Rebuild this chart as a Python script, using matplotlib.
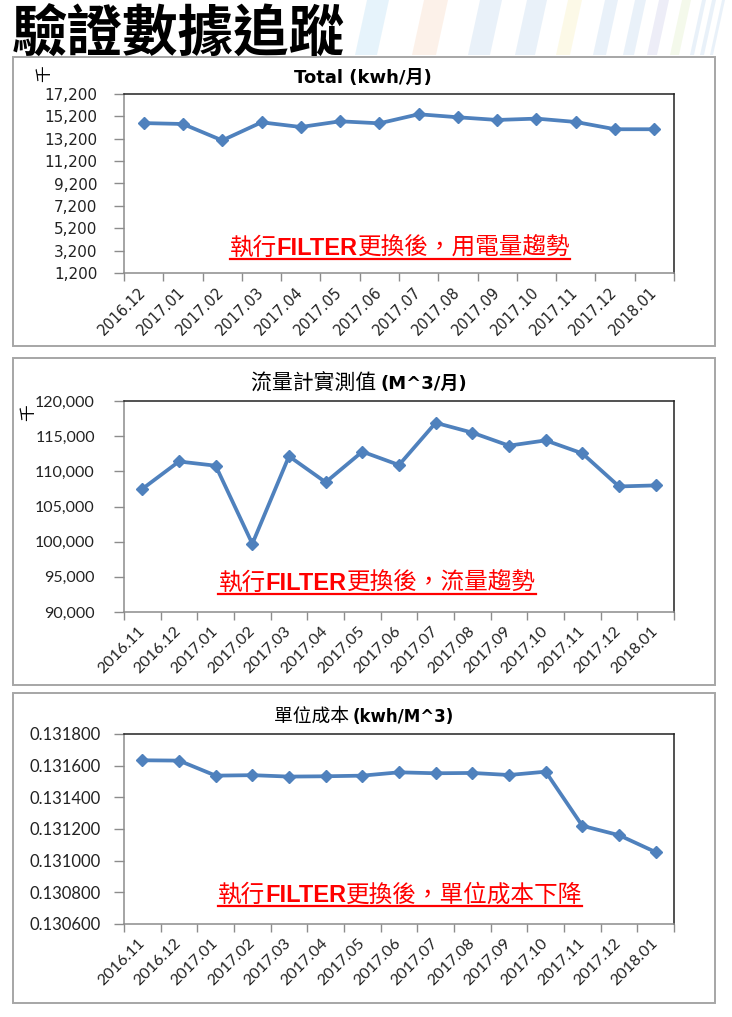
import numpy as np
import matplotlib
matplotlib.use('Agg')
import matplotlib.pyplot as plt
from matplotlib.patches import Rectangle, Polygon
from matplotlib.lines import Line2D
from matplotlib.transforms import IdentityTransform

W, H = 732, 1017

# --- data ---
months_kwh = ['2016.12', '2017.01', '2017.02', '2017.03', '2017.04', '2017.05', '2017.06',
              '2017.07', '2017.08', '2017.09', '2017.10', '2017.11', '2017.12', '2018.01']
total_kwh = [14600, 14520, 13050, 14670, 14250, 14760, 14580,
             15390, 15120, 14880, 15000, 14700, 14050, 14050]

months_flow = ['2016.11', '2016.12', '2017.01', '2017.02', '2017.03', '2017.04', '2017.05', '2017.06',
               '2017.07', '2017.08', '2017.09', '2017.10', '2017.11', '2017.12', '2018.01']
flow_m3 = [107500, 111400, 110800, 99700, 112150, 108450, 112800, 110900,
           116900, 115500, 113650, 114400, 112550, 107850, 108000]
unit_cost = [0.131634, 0.131632, 0.131537, 0.131540, 0.131531, 0.131533, 0.131537, 0.131558,
             0.131552, 0.131554, 0.131541, 0.131562, 0.131220, 0.131161, 0.131054]

yticks_kwh = np.arange(1200, 17201, 2000)
yticks_flow = np.arange(90000, 120001, 5000)
yticks_cost = np.round(np.arange(0.1306, 0.13181, 0.0002), 6)

CJK = 'Noto Sans CJK TC'
BLUE = '#4F81BD'
RED = '#FF0000'

fig = plt.figure(figsize=(W / 100, H / 100), dpi=100)
fig.patch.set_facecolor('white')

# faint decorative strips behind the heading (x at bottom, width, colour)
decor = [(355, 22, '#9fd3f0'), (412, 24, '#f7c9a8'), (468, 22, '#a9c9e8'), (515, 20, '#a9c9e8'),
         (556, 14, '#f7eaa0'), (593, 13, '#a9c9e8'), (623, 11, '#a9c9e8'), (647, 10, '#b8b8e0'),
         (670, 9, '#d5e8b0'), (690, 4, '#a9c9e8'), (700, 4, '#a9c9e8'), (710, 3, '#a9c9e8')]
for x0, w, c in decor:
    pts = [(x0, H - 55), (x0 + w, H - 55), (x0 + w + 12, H), (x0 + 12, H)]
    fig.patches.append(Polygon(pts, closed=True, transform=IdentityTransform(),
                               fc=c, ec='none', alpha=0.25, zorder=0))

fig.text(12, H - 52, '驗證數據追蹤', transform=IdentityTransform(), fontsize=40,
         fontweight='bold', family=CJK, ha='left', va='baseline', color='black')


def rect(left, top, right, bottom):
    return [left / W, 1 - bottom / H, (right - left) / W, (bottom - top) / H]


def panel_box(top, bottom):
    fig.patches.append(Rectangle((13, H - bottom), 702, bottom - top, transform=IdentityTransform(),
                                 fill=False, ec='#a6a6a6', lw=1.4, zorder=1))


def mixed_text(cx, baseline, pieces, underline=False, color='black'):
    r = fig.canvas.get_renderer()
    texts = []
    for s, kw in pieces:
        t = fig.text(0, H - baseline, s, transform=IdentityTransform(), ha='left',
                     va='baseline', color=color, **kw)
        texts.append(t)
    widths = [t.get_window_extent(r).width for t in texts]
    x = cx - sum(widths) / 2
    x0 = x
    for t, w in zip(texts, widths):
        t.set_x(x)
        x += w
    if underline:
        fig.lines.append(Line2D([x0, x], [H - baseline - 3.5] * 2, transform=IdentityTransform(),
                                color=color, lw=1.6))


def draw_chart(ax, labels, values, yticks, fmt, font, yfs, xfs, ypad=12):
    x = np.arange(len(labels))
    ax.plot(x, values, color=BLUE, lw=2.7, marker='D', ms=6, mfc=BLUE, mec=BLUE, zorder=3)
    ax.set_xlim(-0.5, len(labels) - 0.5)
    ax.set_ylim(yticks[0], yticks[-1])
    ax.set_yticks(yticks)
    ax.set_yticklabels([fmt(v) for v in yticks], family=font, fontsize=yfs, color='#222')
    ax.set_xticks(x)
    ax.set_xticklabels(labels, rotation=45, ha='right', va='center', rotation_mode='anchor',
                       family=font, fontsize=xfs, color='#222')
    ax.set_xticks(np.arange(-0.5, len(labels)), minor=True)
    ax.tick_params(axis='x', which='major', length=0, pad=12)
    ax.tick_params(axis='x', which='minor', length=6, color='#8c8c8c', width=1)
    ax.tick_params(axis='y', length=7, color='#8c8c8c', width=1, pad=ypad)
    for s in ['left', 'bottom']:
        ax.spines[s].set_color('#8c8c8c')
    for s in ['top', 'right']:
        ax.spines[s].set_color('#222')
    for s in ax.spines.values():
        s.set_linewidth(1.1)


bold_latin = dict(family=['DejaVu Sans', CJK], fontweight='bold')
cjk = dict(family=CJK)
filt = dict(family='Liberation Sans', fontweight='bold')

# panel 1
panel_box(57, 346)
ax1 = fig.add_axes(rect(124, 94, 674, 273))
draw_chart(ax1, months_kwh, total_kwh, yticks_kwh, lambda v: f'{v:,}', 'DejaVu Sans', 11, 10.5)
mixed_text(363, 83, [('Total (kwh/月)', dict(bold_latin, fontsize=13))])
fig.text(45, H - 74, '千', transform=IdentityTransform(), rotation=90, ha='center',
         va='center', family=CJK, fontsize=12)
mixed_text(400, 255, [('執行', dict(cjk, fontsize=17)), ('FILTER', dict(filt, fontsize=17)),
                      ('更換後，用電量趨勢', dict(cjk, fontsize=17))], underline=True, color=RED)

# panel 2
panel_box(358, 685)
ax2 = fig.add_axes(rect(124, 401, 674, 612))
draw_chart(ax2, months_flow, flow_m3, yticks_flow, lambda v: f'{v:,}', 'Lato', 11.5, 11.5, ypad=14)
mixed_text(359, 389, [('流量計實測值 ', dict(cjk, fontsize=15)),
                      ('(M^3/月)', dict(bold_latin, fontsize=13))])
fig.text(29, H - 413, '千', transform=IdentityTransform(), rotation=90, ha='center',
         va='center', family=CJK, fontsize=12)
mixed_text(377, 590, [('執行', dict(cjk, fontsize=17)), ('FILTER', dict(filt, fontsize=17)),
                      ('更換後，流量趨勢', dict(cjk, fontsize=17))], underline=True, color=RED)

# panel 3
panel_box(693, 1003)
ax3 = fig.add_axes(rect(124, 734, 674, 924))
draw_chart(ax3, months_flow, unit_cost, yticks_cost, lambda v: f'{v:.6f}', 'Lato', 12, 11.5, ypad=10)
mixed_text(364, 722, [('單位成本 ', dict(cjk, fontsize=13.5)),
                      ('(kwh/M^3)', dict(bold_latin, fontsize=12))])
mixed_text(400, 902, [('執行', dict(cjk, fontsize=17)), ('FILTER', dict(filt, fontsize=17)),
                      ('更換後，單位成本下降', dict(cjk, fontsize=17))], underline=True, color=RED)

fig.savefig('out.png', dpi=100)
